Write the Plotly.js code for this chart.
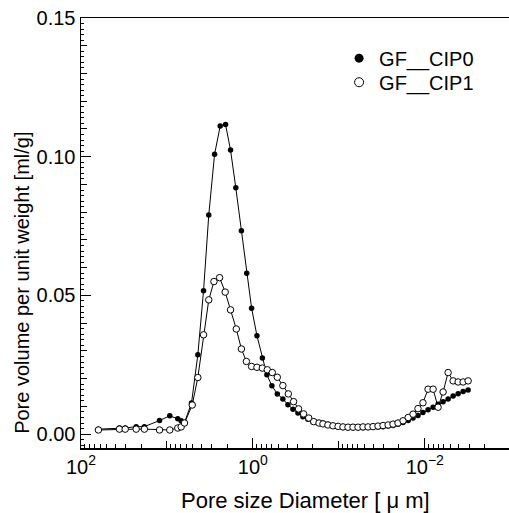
<!DOCTYPE html>
<html>
<head>
<meta charset="utf-8">
<script src="https://cdn.plot.ly/plotly-3.0.1.min.js"></script>
<style>html,body{margin:0;padding:0;background:#fff;}#chart{width:509px;height:513px;}</style>
</head>
<body>
<div id="chart"></div>
<script>
// Pore size diameter (µm) and pore volume per unit weight (ml/g)
const diamCIP0 = [62.7, 35.7, 30.6, 22.8, 18.3, 12.2, 9.27, 7.48, 6.83, 6.25,
  5.18, 4.37, 3.75, 3.26, 2.79, 2.40, 2.08, 1.82, 1.58, 1.36,
  1.18, 1.035, 0.897, 0.776, 0.687, 0.601, 0.520, 0.448, 0.391, 0.342,
  0.299, 0.262, 0.229, 0.200, 0.175, 0.153, 0.134, 0.117, 0.102, 0.0895,
  0.0782, 0.0684, 0.0598, 0.0523, 0.0457, 0.0400, 0.0350, 0.0306, 0.0267, 0.0234,
  0.0205, 0.0179, 0.0156, 0.0137, 0.0120, 0.0105, 0.00916, 0.00800, 0.00700, 0.00612,
  0.00535, 0.00468, 0.00409, 0.00358, 0.00313];
const volCIP0 = [0.0018, 0.0022, 0.0022, 0.0027, 0.0027, 0.0049, 0.0066, 0.0055, 0.0048, 0.0042,
  0.0112, 0.0286, 0.0517, 0.0790, 0.1009, 0.1111, 0.1116, 0.1024, 0.0888, 0.0733,
  0.0580, 0.0454, 0.0355, 0.0274, 0.0214, 0.0174, 0.0145, 0.0127, 0.0106, 0.0090,
  0.0076, 0.0063, 0.0054, 0.0045, 0.0042, 0.0040, 0.0036, 0.0031, 0.0027, 0.0024,
  0.0023, 0.0023, 0.0023, 0.0023, 0.0024, 0.0025, 0.0026, 0.0027, 0.0029, 0.0031,
  0.0036, 0.0042, 0.0049, 0.0058, 0.0067, 0.0078, 0.0088, 0.0097, 0.0108, 0.0117,
  0.0127, 0.0137, 0.0146, 0.0154, 0.0159];

const diamCIP1 = [62.7, 35.7, 30.6, 22.8, 18.3, 12.2, 9.27, 7.48, 6.83, 6.25,
  5.08, 4.37, 3.75, 3.26, 2.84, 2.44, 2.10, 1.82, 1.56, 1.36,
  1.19, 1.035, 0.897, 0.776, 0.680, 0.595, 0.520, 0.448, 0.387, 0.336,
  0.294, 0.257, 0.224, 0.196, 0.170, 0.153, 0.134, 0.117, 0.102, 0.0895,
  0.0782, 0.0684, 0.0598, 0.0523, 0.0457, 0.0400, 0.0350, 0.0306, 0.0267, 0.0234,
  0.0205, 0.0179, 0.0156, 0.0137, 0.0120, 0.0105, 0.00916, 0.00800, 0.00700, 0.00612,
  0.00535, 0.00468, 0.00409, 0.00358, 0.00313];
const volCIP1 = [0.0015, 0.0018, 0.0018, 0.0018, 0.0018, 0.0015, 0.0015, 0.0022, 0.0026, 0.0040,
  0.0105, 0.0204, 0.0358, 0.0484, 0.0550, 0.0564, 0.0512, 0.0448, 0.0379, 0.0307,
  0.0262, 0.0244, 0.0241, 0.0238, 0.0232, 0.0222, 0.0205, 0.0175, 0.0145, 0.0117,
  0.0091, 0.0073, 0.0058, 0.0045, 0.0040, 0.0037, 0.0033, 0.0030, 0.0028, 0.0026,
  0.0025, 0.0025, 0.0025, 0.0026, 0.0026, 0.0027, 0.0029, 0.0031, 0.0033, 0.0036,
  0.0040, 0.0048, 0.0060, 0.0072, 0.0092, 0.0113, 0.0162, 0.0162, 0.0097, 0.0152,
  0.0222, 0.0192, 0.0188, 0.0188, 0.0192];

const seriesNames = ["GF__CIP0", "GF__CIP1"];
const xTitle = "Pore size Diameter [ \u03bc m]";
const yTitle = "Pore volume per unit weight [ml/g]";
const xTickVals = [100, 1, 0.01];
const xTickText = ["10<sup>2</sup>", "10<sup>0</sup>", "10<sup>\u22122</sup>"];
const xMidDecades = [10, 0.1];
const xMinorVals = [];
[100, 10, 1, 0.1, 0.01].forEach(function (dec) {
  for (let k = 2; k <= 9; k++) xMinorVals.push(dec / 10 * k);
});
const yTickVals = [0, 0.05, 0.10, 0.15];
const yTickText = ["0.00", "0.05", "0.10", "0.15"];

const FONT = "Liberation Sans, Arial, sans-serif";
const XR = [2, -2.98];
const YR = [-0.005, 0.15];

const traces = [
  { x: diamCIP0, y: volCIP0, mode: "lines+markers", name: seriesNames[0], showlegend: false,
    line: { color: "#000", width: 1 },
    marker: { symbol: "circle", size: 5.5, color: "#000" } },
  { x: diamCIP1, y: volCIP1, mode: "lines+markers", name: seriesNames[1], showlegend: false,
    line: { color: "#000", width: 1 },
    marker: { symbol: "circle", size: 6.5, color: "#fff", line: { color: "#000", width: 1 } } },
  { x: [null], y: [null], mode: "markers", name: seriesNames[0], legend: "legend",
    marker: { symbol: "circle", size: 9, color: "#000" } },
  { x: [null], y: [null], mode: "markers", name: seriesNames[1], legend: "legend2",
    marker: { symbol: "circle", size: 9, color: "#fff", line: { color: "#000", width: 1 } } },
  { x: [1], y: [0], xaxis: "x2", yaxis: "y2", mode: "markers", showlegend: false, hoverinfo: "skip",
    marker: { opacity: 0 } },
  { x: [1], y: [0], xaxis: "x3", yaxis: "y", mode: "markers", showlegend: false, hoverinfo: "skip",
    marker: { opacity: 0 } }
];

const legendBase = { x: 0.603, xanchor: "left", yanchor: "top", bgcolor: "rgba(0,0,0,0)",
  font: { family: FONT, size: 20, color: "#000" }, itemwidth: 30 };

const layout = {
  width: 509, height: 513,
  margin: { l: 81, r: 0, t: 18, b: 65 },
  paper_bgcolor: "#fff", plot_bgcolor: "#fff",
  font: { family: FONT, size: 20, color: "#000" },
  showlegend: true,
  legend: Object.assign({}, legendBase, { y: 0.952 }),
  legend2: Object.assign({}, legendBase, { y: 0.896 }),
  xaxis: {
    type: "log", range: XR, autorange: false,
    tickvals: xTickVals, ticktext: xTickText,
    ticks: "inside", ticklen: 10, tickwidth: 1, tickcolor: "#000",
    showline: true, linecolor: "#000", linewidth: 1.5, mirror: true,
    showgrid: false, zeroline: false,
    tickfont: { family: FONT, size: 20, color: "#000" },
    title: { text: "" }
  },
  xaxis2: {
    type: "log", range: XR, autorange: false, overlaying: "x", anchor: "y", side: "bottom",
    tickvals: xMinorVals, ticks: "inside", ticklen: 4, tickwidth: 1, tickcolor: "#000",
    showticklabels: false, showline: false, showgrid: false, zeroline: false
  },
  xaxis3: {
    type: "log", range: XR, autorange: false, overlaying: "x", anchor: "y", side: "bottom",
    tickvals: xMidDecades, ticks: "inside", ticklen: 7, tickwidth: 1, tickcolor: "#000",
    showticklabels: false, showline: false, showgrid: false, zeroline: false
  },
  yaxis: {
    range: YR, autorange: false,
    tickvals: yTickVals, ticktext: yTickText,
    ticks: "inside", ticklen: 10, tickwidth: 1, tickcolor: "#000",
    minor: { dtick: 0.01, tick0: 0, ticks: "inside", ticklen: 6, tickwidth: 1, tickcolor: "#000", showgrid: false },
    showline: true, linecolor: "#000", linewidth: 1.5, mirror: false,
    showgrid: false, zeroline: false,
    tickfont: { family: FONT, size: 20, color: "#000" },
    title: { text: "" }
  },
  yaxis2: {
    range: YR, autorange: false, overlaying: "y", anchor: "x2", side: "left",
    dtick: 0.002, tick0: 0, ticks: "inside", ticklen: 3, tickwidth: 1, tickcolor: "#000",
    showticklabels: false, showline: false, showgrid: false, zeroline: false
  },
  annotations: [
    { text: xTitle, xref: "paper", yref: "paper", x: 0.5234, y: -0.121,
      xanchor: "center", yanchor: "middle", showarrow: false,
      font: { family: FONT, size: 22, color: "#000" } },
    { text: yTitle, xref: "paper", yref: "paper", x: -0.1379, y: 0.384, textangle: -90,
      xanchor: "center", yanchor: "middle", showarrow: false,
      font: { family: FONT, size: 20, color: "#000" } }
  ]
};

Plotly.newPlot("chart", traces, layout, { displayModeBar: false, staticPlot: true });
</script>
</body>
</html>
